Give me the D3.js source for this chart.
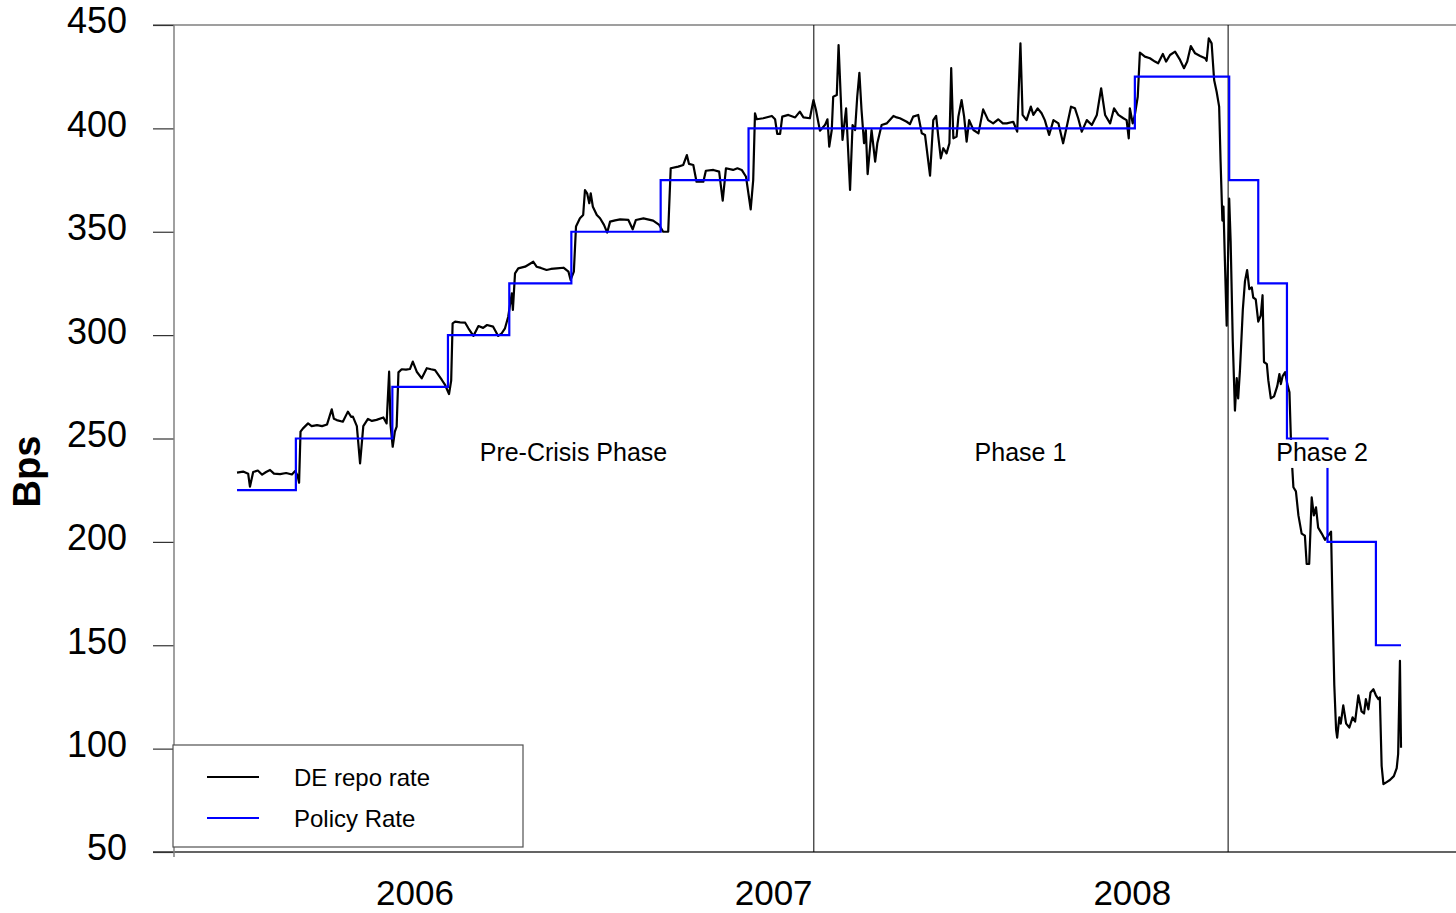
<!DOCTYPE html>
<html><head><meta charset="utf-8">
<script src="https://cdn.jsdelivr.net/npm/d3@7"></script>
<style>html,body{margin:0;padding:0;background:#fff;overflow:hidden}text{font-family:"Liberation Sans",Arial,sans-serif}</style>
</head><body>
<svg id="c" width="1456" height="913"></svg>
<script>
// ---------- data ----------
const yTicks = [50, 100, 150, 200, 250, 300, 350, 400, 450];
const yearLabels = ["2006", "2007", "2008"];
const yearLabelPos = [2006.5, 2007.5, 2008.5];

const policyStart = [2006.004, 2006.168, 2006.437, 2006.592, 2006.763, 2006.936, 2007.185, 2007.430, 2008.507, 2008.770, 2008.851, 2008.931, 2009.044, 2009.179];
const policyRate  = [225, 250, 275, 300, 325, 350, 375, 400, 425, 375, 325, 250, 200, 150];
const policyEnd = 2009.249;

const repoT = [2006.004,2006.021,2006.035,2006.040,2006.049,2006.062,2006.074,2006.085,2006.096,2006.107,2006.124,2006.141,2006.157,2006.166,2006.173,2006.177,2006.181,
2006.188,2006.202,2006.212,2006.227,2006.241,2006.255,2006.268,2006.274,2006.282,2006.299,2006.313,2006.322,2006.327,2006.338,2006.347,2006.356,2006.369,2006.380,2006.393,2006.412,2006.421,2006.428,2006.432,2006.438,2006.444,2006.449,2006.454,2006.463,
2006.475,2006.486,2006.494,2006.505,2006.519,2006.533,2006.545,2006.556,2006.575,2006.584,2006.595,2006.601,2006.605,
2006.612,2006.626,2006.640,2006.649,2006.663,2006.677,2006.690,2006.701,2006.718,2006.732,2006.742,2006.751,2006.760,2006.770,2006.773,2006.779,2006.788,2006.807,2006.830,2006.839,2006.851,2006.867,2006.879,2006.895,2006.914,2006.928,2006.934,2006.943,
2006.949,2006.960,2006.969,2006.974,2006.980,2006.986,2006.990,2006.996,2007.007,2007.016,2007.027,2007.036,2007.044,2007.058,2007.072,2007.095,2007.107,2007.116,2007.137,2007.164,2007.181,2007.192,2007.206,
2007.213,2007.234,2007.248,2007.258,2007.264,2007.276,2007.285,2007.304,2007.311,2007.332,2007.348,2007.358,2007.367,2007.387,2007.399,2007.411,2007.423,2007.436,2007.443,
2007.448,2007.453,2007.471,2007.495,2007.504,2007.510,2007.518,2007.524,2007.541,2007.560,2007.573,2007.583,2007.601,2007.611,2007.618,2007.629,2007.643,2007.650,2007.655,2007.662,2007.666,2007.676,2007.681,2007.687,2007.692,2007.702,2007.713,2007.720,2007.727,2007.733,2007.739,2007.745,2007.752,2007.757,2007.762,2007.773,2007.783,2007.789,2007.801,2007.815,2007.834,2007.843,2007.852,2007.871,2007.880,2007.889,2007.903,2007.913,2007.922,2007.936,2007.945,2007.953,2007.959,2007.966,2007.973,2007.982,2007.990,2007.995,
2008.001,2008.010,2008.015,2008.024,2008.031,2008.038,2008.045,2008.057,2008.071,2008.084,2008.098,2008.112,2008.126,2008.139,2008.150,2008.168,2008.179,2008.188,2008.194,2008.205,2008.217,2008.224,2008.236,2008.247,2008.256,2008.268,2008.280,2008.294,2008.307,2008.319,2008.329,2008.340,2008.349,2008.359,2008.373,2008.387,2008.401,2008.413,2008.424,2008.438,2008.449,2008.461,2008.475,2008.484,2008.490,2008.493,2008.501,2008.507,
2008.515,2008.521,2008.535,2008.549,2008.563,2008.572,2008.585,2008.594,2008.605,2008.619,2008.633,2008.644,2008.653,2008.663,2008.675,2008.689,2008.703,2008.707,2008.713,2008.721,2008.728,2008.735,2008.742,2008.746,
2008.751,2008.754,2008.758,2008.763,2008.770,2008.774,2008.780,2008.786,2008.791,2008.795,2008.800,2008.808,2008.814,2008.820,2008.826,2008.833,2008.837,2008.844,2008.851,2008.858,2008.863,2008.867,2008.875,2008.879,2008.886,2008.895,2008.904,2008.910,2008.914,2008.919,2008.926,2008.932,2008.938,2008.942,2008.946,
2008.949,2008.956,2008.963,2008.972,2008.981,2008.986,2008.993,2009.000,2009.006,2009.012,2009.018,2009.028,2009.037,2009.046,2009.054,2009.058,2009.063,2009.068,2009.071,2009.077,2009.081,2009.088,2009.096,2009.105,2009.114,2009.121,2009.130,2009.139,2009.146,2009.151,2009.158,2009.164,2009.172,2009.179,2009.186,2009.190,2009.195,2009.200,2009.209,2009.218,2009.229,2009.237,2009.241,2009.246,2009.249];

const repoV = [233.5,234.0,233.0,226.7,233.8,234.5,232.5,233.8,234.8,233.0,232.8,233.3,232.6,234.3,232.0,228.6,253.3,
254.9,257.3,256.0,256.5,256.0,256.8,264.1,259.5,258.9,258.1,263.0,260.5,260.6,256.0,238.0,256.0,259.5,258.5,259.0,260.2,257.3,282.3,256.5,246.0,253.3,255.7,282.0,283.5,
283.3,283.6,287.2,282.3,279.1,284.0,283.5,283.1,278.3,275.9,271.5,278.0,305.7,
306.5,306.2,306.0,303.3,299.6,304.4,303.5,304.9,304.1,299.6,300.9,303.3,308.9,320.2,312.2,329.9,332.3,333.1,335.5,333.1,332.5,331.5,332.0,332.3,332.6,330.7,326.7,330.7,
352.5,356.5,358.1,370.2,368.6,363.8,368.6,362.1,358.1,356.5,353.3,349.6,354.9,355.5,356.0,355.7,351.2,355.7,356.5,355.4,353.3,350.0,350.0,
380.7,381.5,382.3,387.1,382.8,382.3,374.2,374.2,379.5,379.9,379.1,365.0,380.7,379.9,380.7,379.9,376.6,360.8,375.0,
407.3,404.4,404.9,406.0,404.4,397.3,397.3,405.7,406.5,405.3,408.1,405.3,404.9,413.7,408.9,398.9,401.6,404.4,391.2,399.2,415.3,416.1,440.3,415.3,394.4,409.7,370.2,401.6,399.2,415.3,426.9,408.9,392.8,399.2,377.9,399.2,383.9,392.8,401.6,402.4,406.0,405.3,404.9,403.2,402.1,405.7,406.5,397.6,396.8,377.1,404.0,406.0,396.0,385.5,390.4,387.9,392.8,429.1,
395.2,396.0,405.7,413.7,405.7,393.6,404.0,399.2,397.6,409.2,404.0,402.4,404.4,402.4,402.4,403.2,398.4,441.1,406.5,404.0,410.5,406.5,409.7,407.3,404.0,396.8,404.0,402.4,392.8,402.4,410.5,409.7,404.9,398.4,404.0,401.6,406.5,419.4,406.5,402.4,409.7,406.5,404.9,404.0,395.2,409.7,402.4,406.5,
415.3,436.6,434.7,433.9,432.3,431.5,436.0,432.3,435.5,437.1,433.1,429.1,432.3,439.8,436.3,435.0,433.9,432.7,443.6,441.1,423.4,417.7,410.5,384.0,
355.4,362.2,335.9,304.6,366.0,345.6,296.8,263.5,279.2,269.4,283.1,312.4,326.1,331.5,322.2,323.1,318.2,317.3,306.5,309.5,319.3,287.0,286.0,278.2,269.4,270.4,275.3,281.2,276.3,280.2,282.1,276.3,272.4,249.9,235.2,
226.4,224.4,212.8,204.0,203.0,189.3,189.3,221.5,212.8,216.7,206.9,204.0,201.0,203.0,204.9,169.8,130.7,109.2,105.3,115.1,112.1,120.9,112.1,110.2,115.1,113.1,125.8,118.0,117.0,123.9,119.0,127.2,128.7,125.8,123.9,124.8,91.6,82.8,83.8,84.8,86.7,90.6,97.4,142.4,100.4];

const phaseBreaks = [2007.612, 2008.767];
const phaseNames = ["Pre-Crisis Phase", "Phase 1", "Phase 2"];
const phaseLabelT = [2006.942, 2008.188, 2009.029];
const phaseLabelV = 243.5;
const legendNames = ["DE repo rate", "Policy Rate"];
const seriesColors = ["#000000", "#0000ff"];

// ---------- scales ----------
const svg = d3.select("#c");
const x = d3.scaleLinear().domain([2006, 2009]).range([235.6, 1311.7]);
const y = d3.scaleLinear().domain([50, 450]).range([852, 25]);
const axisX = 174, leftEdge = 153, rightEdge = 1456;

// frame lines
svg.append("line").attr("x1", leftEdge).attr("x2", rightEdge).attr("y1", y(450)).attr("y2", y(450))
  .attr("stroke", "#404040").attr("stroke-width", 1.2);
svg.append("line").attr("x1", leftEdge).attr("x2", rightEdge).attr("y1", y(50)).attr("y2", y(50))
  .attr("stroke", "#303030").attr("stroke-width", 1.4);

// y axis
const yAxis = d3.axisLeft(y).tickValues(yTicks).tickSize(axisX - leftEdge).tickSizeOuter(0).tickPadding(26);
const gy = svg.append("g").attr("transform", `translate(${axisX},0)`).call(yAxis);
gy.select(".domain").remove();
gy.selectAll(".tick line").attr("stroke", "#333").attr("stroke-width", 1.2);
gy.selectAll(".tick text").attr("font-size", 36).attr("font-family", "Liberation Sans, Arial, sans-serif")
  .attr("fill", "#000").attr("dy", "0.22em");
svg.append("line").attr("x1", axisX).attr("x2", axisX).attr("y1", y(450)).attr("y2", y(50) + 5)
  .attr("stroke", "#808080").attr("stroke-width", 1.5);

// x labels
svg.selectAll("text.xl").data(yearLabels).enter().append("text").attr("class", "xl")
  .attr("x", (d, i) => x(yearLabelPos[i])).attr("y", 905).attr("text-anchor", "middle")
  .attr("font-size", 35).text(d => d);

// y title
svg.append("text").attr("transform", `translate(40,${y(234)}) rotate(-90)`).attr("text-anchor", "middle")
  .attr("font-size", 38).attr("font-weight", "bold").text("Bps");

// phase lines
svg.selectAll("line.ph").data(phaseBreaks).enter().append("line").attr("class", "ph")
  .attr("x1", d => x(d)).attr("x2", d => x(d)).attr("y1", y(450)).attr("y2", y(50))
  .attr("stroke", "#000").attr("stroke-width", 1);

// repo line
const repo = repoT.map((t, i) => [t, repoV[i]]);
svg.append("path").datum(repo).attr("fill", "none").attr("stroke", seriesColors[0]).attr("stroke-width", 2.2)
  .attr("stroke-linejoin", "round")
  .attr("d", d3.line().x(d => x(d[0])).y(d => y(d[1])));

// policy line
const pol = policyStart.map((t, i) => [t, policyRate[i]]);
pol.push([policyEnd, policyRate[policyRate.length - 1]]);
svg.append("path").datum(pol).attr("fill", "none").attr("stroke", seriesColors[1]).attr("stroke-width", 2.2)
  .attr("d", d3.line().curve(d3.curveStepAfter).x(d => x(d[0])).y(d => y(d[1])));

// phase labels
phaseNames.forEach((name, i) => {
  const t = svg.append("text").attr("x", x(phaseLabelT[i])).attr("y", y(phaseLabelV) + 9)
    .attr("text-anchor", "middle").attr("font-size", 25).text(name);
  if (i === 2) {
    const bb = t.node().getBBox();
    svg.insert("rect", () => t.node()).attr("x", bb.x - 3).attr("y", y(phaseLabelV) - 12)
      .attr("width", bb.width + 6).attr("height", 28).attr("fill", "#fff");
  }
});

// legend
const lg = svg.append("g");
lg.append("rect").attr("x", 173).attr("y", 745).attr("width", 350).attr("height", 102)
  .attr("fill", "#fff").attr("stroke", "#505050").attr("stroke-width", 1.2);
legendNames.forEach((name, i) => {
  const ly = 777 + i * 41;
  lg.append("line").attr("x1", 207).attr("x2", 259).attr("y1", ly).attr("y2", ly)
    .attr("stroke", seriesColors[i]).attr("stroke-width", 2);
  lg.append("text").attr("x", 294).attr("y", ly + 9).attr("font-size", 24).text(name);
});
</script>
</body></html>
